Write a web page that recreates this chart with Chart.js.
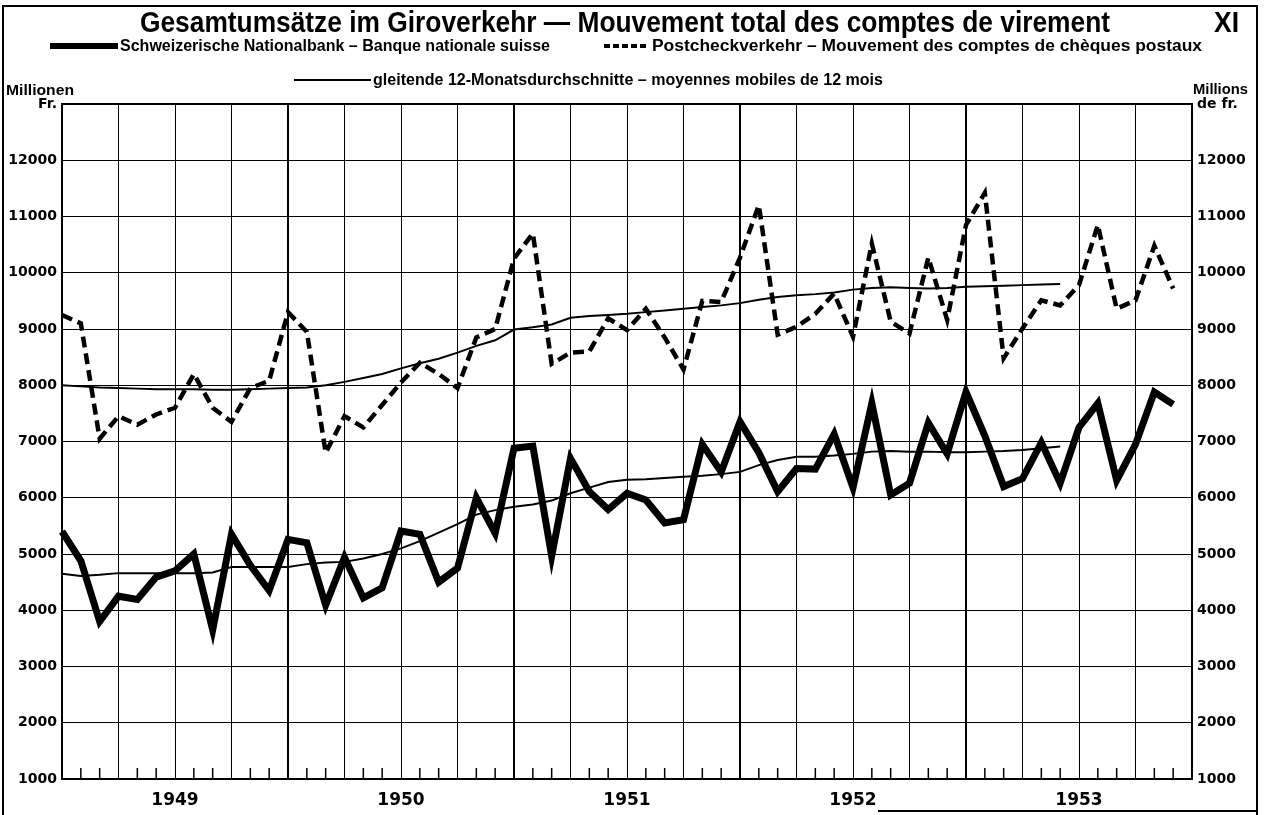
<!DOCTYPE html>
<html><head><meta charset="utf-8">
<script src="https://cdn.jsdelivr.net/npm/chart.js@4.4.1/dist/chart.umd.min.js"></script>
<style>
html,body{margin:0;padding:0;background:#fff;}
#wrap{position:relative;width:1264px;height:815px;overflow:hidden;background:#fff;}
#c{position:absolute;left:0;top:0;}
.t{position:absolute;white-space:nowrap;color:#000;font-family:"Liberation Sans Narrow","Liberation Sans",Arial,sans-serif;font-weight:bold;transform-origin:0 0;line-height:1;}
.frame{position:absolute;left:2px;top:5px;width:1256px;height:810px;border:2px solid #000;border-bottom:none;box-sizing:border-box;pointer-events:none;}
.s{position:absolute;background:#000;}
</style></head>
<body><div id="wrap">
<canvas id="c" width="1264" height="815" style="width:1264px;height:815px"></canvas>
<div class="frame"></div>
<div class="s" style="left:878px;top:810px;width:380px;height:2px;"></div>
<div class="s" id="s1"></div>
<div class="s" id="s2" style="background:repeating-linear-gradient(90deg,#000 0 6px,transparent 6px 9px);"></div>
<div class="s" id="s3"></div>
</div>
<script>
// ---- data ----
const months = ['1949-01','1949-02','1949-03','1949-04','1949-05','1949-06','1949-07','1949-08','1949-09','1949-10','1949-11','1949-12',
'1950-01','1950-02','1950-03','1950-04','1950-05','1950-06','1950-07','1950-08','1950-09','1950-10','1950-11','1950-12',
'1951-01','1951-02','1951-03','1951-04','1951-05','1951-06','1951-07','1951-08','1951-09','1951-10','1951-11','1951-12',
'1952-01','1952-02','1952-03','1952-04','1952-05','1952-06','1952-07','1952-08','1952-09','1952-10','1952-11','1952-12',
'1953-01','1953-02','1953-03','1953-04','1953-05','1953-06','1953-07','1953-08','1953-09','1953-10','1953-11','1953-12',
'1954-01'];
const yearLabels = ['1949','1950','1951','1952','1953'];
const snb = [5400,4880,3800,4250,4190,4590,4700,5000,3650,5350,4800,4350,
  5260,5200,4090,4940,4220,4400,5410,5350,4500,4750,6000,5370,
  6880,6920,4960,6700,6110,5790,6080,5960,5550,5610,6950,6460,
  7350,6800,6110,6520,6510,7130,6180,7680,6050,6260,7330,6780,
  7880,7100,6200,6340,6980,6260,7250,7680,6310,6950,7880,7660];
const pcv = [9250,9100,7050,7450,7300,7480,7600,8200,7600,7350,7950,8080,
  9300,8950,6800,7450,7250,7650,8050,8400,8200,7950,8850,9000,
  10250,10700,8380,8580,8600,9190,8980,9360,8850,8280,9500,9480,
  10270,11200,8900,9040,9270,9630,8860,10520,9130,8920,10270,9160,
  10850,11420,8480,9010,9510,9420,9780,10850,9360,9510,10480,9720];
const snbAvg = [4650,4610,4630,4660,4660,4660,4660,4660,4670,4770,4770,4770,
  4770,4820,4850,4860,4920,5000,5100,5230,5380,5530,5700,5780,
  5840,5880,5950,6080,6180,6280,6320,6330,6350,6375,6390,6420,
  6460,6580,6670,6730,6730,6750,6780,6820,6830,6820,6820,6810,
  6810,6820,6830,6850,6880,6910];
const pcvAvg = [8000,7980,7960,7950,7940,7930,7930,7930,7920,7920,7930,7940,
  7950,7960,8000,8060,8130,8200,8300,8390,8470,8580,8700,8800,
  8990,9030,9080,9200,9230,9250,9270,9300,9330,9360,9390,9420,
  9460,9520,9570,9600,9620,9650,9700,9730,9740,9730,9720,9730,
  9750,9760,9770,9780,9790,9800];
const yMin = 1000, yMax = 13000, yStep = 1000;
const texts = {
  title: 'Gesamtumsätze im Giroverkehr — Mouvement total des comptes de virement',
  num: 'XI',
  snb: 'Schweizerische Nationalbank – Banque nationale suisse',
  pcv: 'Postcheckverkehr – Mouvement des comptes de chèques postaux',
  avg: 'gleitende 12-Monatsdurchschnitte – moyennes mobiles de 12 mois',
  unitL: 'Millionen', unitL2: 'Fr.', unitR: 'Millions', unitR2: 'de fr.'
};

// ---- text placement ----
const wrap = document.getElementById('wrap');
function place(str, left, right, cy, fs) {
  const d = document.createElement('div');
  d.className = 't'; d.textContent = str; d.style.fontSize = fs + 'px';
  wrap.appendChild(d);
  const w = d.getBoundingClientRect().width;
  d.style.left = left + 'px';
  d.style.top = (cy - 0.5 * fs) + 'px';
  d.style.transform = 'scaleX(' + ((right - left) / w) + ')';
}
place(texts.title, 140, 1110, 22, 29);
place(texts.num, 1214, 1239, 22, 29);
place(texts.snb, 120, 550, 46, 16);
place(texts.pcv, 652, 1202, 46, 16);
place(texts.avg, 373, 883, 80, 16);
place(texts.unitL, 6, 74, 89, 15);
place(texts.unitR, 1193, 1248, 88, 15);
function bar(id, l, r, cy, h) {
  const e = document.getElementById(id);
  e.style.left = l + 'px'; e.style.width = (r - l) + 'px';
  e.style.top = (cy - h / 2) + 'px'; e.style.height = h + 'px';
}
bar('s1', 50, 118, 46, 6);
bar('s2', 604, 649, 46, 4);
bar('s3', 294, 371, 80, 2);

// ---- chart ----
const monthTicks = {
  id: 'monthTicks',
  beforeDatasetsDraw(chart) {
    const {ctx, chartArea, scales} = chart;
    const x = scales.x;
    ctx.save();
    ctx.strokeStyle = '#000'; ctx.lineWidth = 1.5;
    for (let i = 0; i < months.length; i++) {
      if (i % 3 === 0) continue;
      const px = x.getPixelForValue(i);
      ctx.beginPath(); ctx.moveTo(px, chartArea.bottom); ctx.lineTo(px, chartArea.bottom - 11); ctx.stroke();
    }
    ctx.restore();
  }
};
const tickFont = {family: '"DejaVu Sans", sans-serif', weight: 'bold', size: 14};
new Chart(document.getElementById('c'), {
  type: 'line',
  data: {
    labels: months,
    datasets: [
      {data: pcvAvg, borderColor: '#000', borderWidth: 2},
      {data: snbAvg, borderColor: '#000', borderWidth: 2},
      {data: pcv, borderColor: '#000', borderWidth: 4.5, borderDash: [11, 6]},
      {data: snb, borderColor: '#000', borderWidth: 7}
    ]
  },
  options: {
    responsive: false, animation: false, devicePixelRatio: 1,
    layout: {padding: {top: 104, left: 0, right: 0, bottom: 0}},
    plugins: {legend: {display: false}, title: {display: false}, tooltip: {enabled: false}},
    elements: {point: {radius: 0}, line: {tension: 0, borderJoinStyle: 'miter', borderCapStyle: 'butt', fill: false}},
    scales: {
      x: {
        type: 'category', offset: false,
        grid: {drawTicks: false,
          color: c => (c.index % 3 === 0 ? '#000' : 'rgba(0,0,0,0)'),
          lineWidth: c => (c.index % 12 === 0 ? 2 : 1)},
        border: {display: true, color: '#000', width: 2},
        ticks: {autoSkip: false, maxRotation: 0, minRotation: 0, padding: 11, color: '#000',
          font: {family: '"DejaVu Sans", sans-serif', weight: 'bold', size: 17},
          callback: (v, i) => (i % 12 === 6 ? yearLabels[(i - 6) / 12] : '')},
        afterFit: s => { s.height = 36; }
      },
      y: {
        position: 'left', min: yMin, max: yMax,
        grid: {drawTicks: false, color: '#000', lineWidth: c => (c.tick && c.tick.value === yMax ? 2 : 1)},
        border: {display: true, color: '#000', width: 2},
        ticks: {stepSize: yStep, padding: 5, color: '#000', font: tickFont,
          callback: v => (v === yMax ? texts.unitL2 : String(v))},
        afterFit: s => { s.width = 62; }
      },
      y2: {
        position: 'right', min: yMin, max: yMax,
        grid: {display: false, drawTicks: false},
        border: {display: true, color: '#000', width: 2},
        ticks: {stepSize: yStep, padding: 5, color: '#000', font: tickFont,
          callback: v => (v === yMax ? texts.unitR2 : String(v))},
        afterFit: s => { s.width = 72; }
      }
    }
  },
  plugins: [monthTicks]
});
</script>
</body></html>
